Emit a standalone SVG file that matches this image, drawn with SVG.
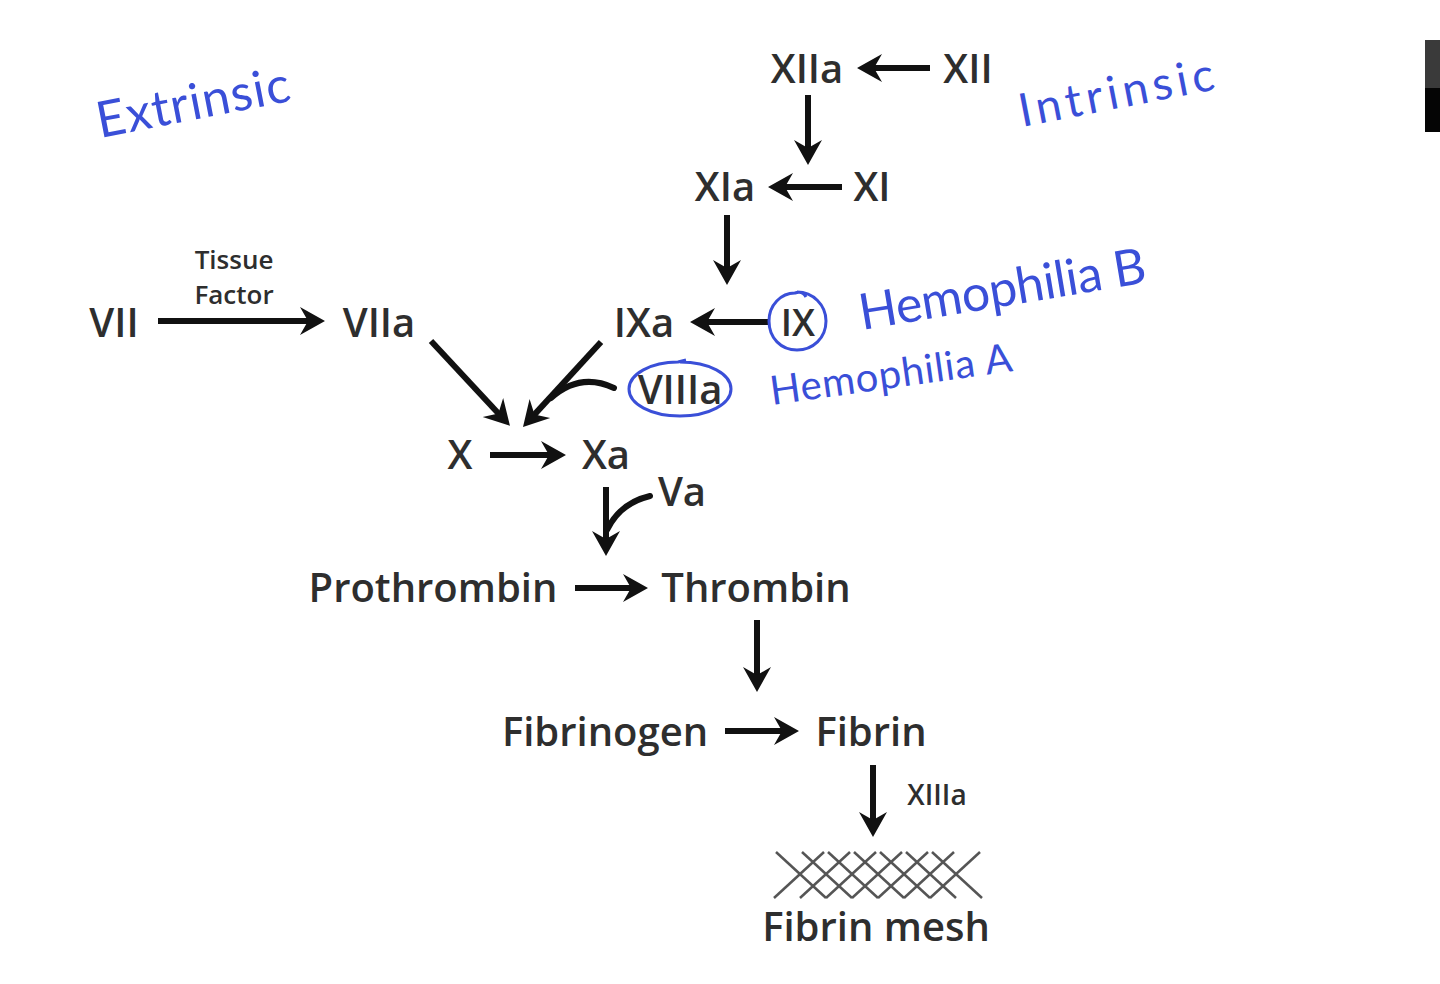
<svg xmlns="http://www.w3.org/2000/svg" width="1440" height="984" viewBox="0 0 1440 984">
<style>
.t{font-family:"Open Sans","Liberation Sans",sans-serif;font-size:40px;font-weight:600;fill:#2e2e2e;text-anchor:middle}
.s{font-size:28px}
.tf{font-size:26px}
.hw{font-family:Lato,"DejaVu Sans",sans-serif;font-weight:400;fill:#3a4fd8}
.ar{stroke:#111;stroke-width:6;fill:none;marker-end:url(#ah)}
.cv{stroke:#111;stroke-width:6;fill:none;stroke-linecap:round}
.blue{stroke:#3a4fd8;stroke-width:3;fill:none}
.mesh{stroke:#555;stroke-width:2.5}
</style>
<defs>
<marker id="ah" markerUnits="userSpaceOnUse" markerWidth="28" markerHeight="30" refX="17" refY="15" orient="auto">
<path d="M0,1 L25,15 L0,29 L8,15 z" fill="#111"/>
</marker>
</defs>
<rect width="1440" height="984" fill="#fff"/>
<rect x="1425" y="40" width="15" height="48" fill="#3a3a3a"/>
<rect x="1425" y="88" width="15" height="44" fill="#050505"/>

<g id="connectors">
<line class="ar" x1="930" y1="68" x2="865" y2="68"/>
<line class="ar" x1="808" y1="95" x2="808" y2="157"/>
<line class="ar" x1="842" y1="187" x2="776" y2="187"/>
<line class="ar" x1="727" y1="215" x2="727" y2="277"/>
<line class="ar" x1="770" y1="322" x2="698" y2="322"/>
<line class="ar" x1="158" y1="321" x2="317" y2="321"/>
<line class="ar" x1="431" y1="341" x2="504.5" y2="420"/>
<line class="ar" x1="601" y1="342" x2="528.4" y2="421.1"/>
<line class="ar" x1="490" y1="455" x2="558" y2="455"/>
<line class="ar" x1="606" y1="487" x2="606" y2="548"/>
<line class="ar" x1="575" y1="588" x2="640" y2="588"/>
<line class="ar" x1="757" y1="620" x2="757" y2="684"/>
<line class="ar" x1="725" y1="731" x2="791" y2="731"/>
<line class="ar" x1="873" y1="765" x2="873" y2="829"/>
<path class="cv" d="M614,388 Q580,372 551,398"/>
<path class="cv" d="M650,496 Q620,503 607,530"/>
</g>

<g id="n-xiia"><text class="t" x="807" y="83">XIIa</text></g>
<g id="n-xii"><text class="t" x="968" y="83">XII</text></g>
<g id="n-xia"><text class="t" x="725" y="201">XIa</text></g>
<g id="n-xi"><text class="t" x="872" y="201">XI</text></g>
<g id="n-ixa"><text class="t" x="644" y="337">IXa</text></g>
<g id="n-ix"><text class="t" x="798" y="336" style="font-size:37px">IX</text>
<path class="blue" d="M797,292 C813,292 826,305 826,321 C826,338 813,350 797,350 C781,350 769,338 769,321 C769,305 781,293 795,293 C800,291 804,293 806,297"/></g>
<g id="n-vii"><text class="t" x="114" y="337">VII</text></g>
<g id="n-tf"><text class="t tf" x="234" y="269">Tissue</text><text class="t tf" x="234" y="304">Factor</text></g>
<g id="n-viia"><text class="t" x="379" y="337">VIIa</text></g>
<g id="n-viiia"><text class="t" x="680" y="404">VIIIa</text>
<path class="blue" d="M680,362 C709,362 731,374 731,389 C731,404 709,416 680,416 C651,416 629,404 629,389 C629,374 651,362 678,362 L686,360"/></g>
<g id="n-x"><text class="t" x="460" y="469">X</text></g>
<g id="n-xa"><text class="t" x="606" y="469">Xa</text></g>
<g id="n-va"><text class="t" x="682" y="506">Va</text></g>
<g id="n-prothrombin"><text class="t" x="433" y="602">Prothrombin</text></g>
<g id="n-thrombin"><text class="t" x="756" y="602">Thrombin</text></g>
<g id="n-fibrinogen"><text class="t" x="605" y="746">Fibrinogen</text></g>
<g id="n-fibrin"><text class="t" x="871" y="746">Fibrin</text></g>
<g id="n-xiiia"><text class="t s" x="937" y="805">XIIIa</text></g>
<g id="n-mesh">
<g class="mesh">
<line x1="776" y1="852" x2="826" y2="898"/><line x1="802" y1="852" x2="852" y2="898"/><line x1="828" y1="852" x2="878" y2="898"/><line x1="854" y1="852" x2="904" y2="898"/><line x1="880" y1="852" x2="930" y2="898"/><line x1="906" y1="852" x2="956" y2="898"/><line x1="932" y1="852" x2="982" y2="898"/>
<line x1="774" y1="898" x2="824" y2="852"/><line x1="800" y1="898" x2="850" y2="852"/><line x1="826" y1="898" x2="876" y2="852"/><line x1="852" y1="898" x2="902" y2="852"/><line x1="878" y1="898" x2="928" y2="852"/><line x1="904" y1="898" x2="954" y2="852"/><line x1="930" y1="898" x2="980" y2="852"/>
</g>
<text class="t" x="876" y="941">Fibrin mesh</text></g>

<g id="lbl-extrinsic"><text class="hw" x="100" y="138" font-size="50" textLength="196" lengthAdjust="spacing" transform="rotate(-11 100 138)">Extrinsic</text></g>
<g id="lbl-intrinsic"><text class="hw" x="1022" y="127" font-size="46" textLength="198" lengthAdjust="spacing" transform="rotate(-11 1022 127)">Intrinsic</text></g>
<g id="lbl-hemob"><text class="hw" x="862" y="330" font-size="50" textLength="290" lengthAdjust="spacing" transform="rotate(-9.5 862 330)">Hemophilia B</text></g>
<g id="lbl-hemoa"><text class="hw" x="772" y="405" font-size="40" textLength="244" lengthAdjust="spacing" transform="rotate(-8 772 405)">Hemophilia A</text></g>
</svg>
